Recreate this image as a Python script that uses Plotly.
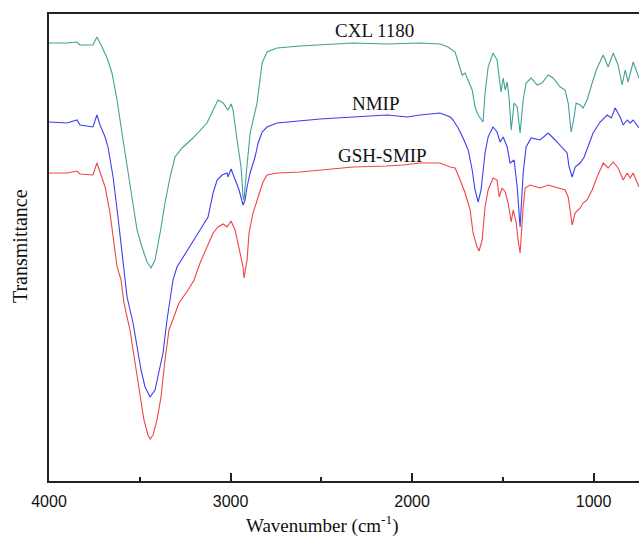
import plotly.graph_objects as go

# ---- data (wavenumber in cm-1, transmittance in arbitrary units) ----
cxl_wn = [4000, 3901, 3846, 3829, 3758, 3736, 3708, 3680, 3653, 3625, 3598, 3570, 3543, 3515,
          3488, 3460, 3438, 3416, 3388, 3361, 3333, 3306, 3267, 3207, 3130, 3096, 3069, 3041,
          3014, 2997, 2986, 2964, 2942, 2931, 2926, 2910, 2892, 2854, 2826, 2799, 2744, 2617,
          2507, 2325, 2138, 1956, 1846, 1802, 1763, 1746, 1724, 1708, 1691, 1669, 1653, 1636,
          1609, 1598, 1581, 1554, 1532, 1520, 1510, 1498, 1487, 1476, 1465, 1454, 1438, 1421,
          1405, 1388, 1372, 1344, 1311, 1284, 1250, 1223, 1184, 1157, 1140, 1124, 1113, 1096,
          1074, 1058, 1036, 1008, 981, 947, 920, 892, 865, 843, 826, 810, 782, 760, 750]
cxl_t = [438, 438, 439, 436, 436, 444, 434, 423, 408, 381, 348, 314, 281, 251,
         234, 219, 213, 221, 248, 278, 304, 324, 333, 343, 358, 371, 381, 378,
         371, 377, 371, 341, 314, 284, 281, 314, 348, 378, 418, 429, 433, 435,
         436, 438, 437, 438, 437, 434, 429, 418, 406, 408, 401, 391, 374, 366,
         359, 388, 414, 428, 421, 404, 389, 403, 391, 399, 381, 351, 378, 374,
         348, 381, 398, 403, 396, 398, 406, 403, 394, 391, 378, 349, 358, 378,
         376, 373, 381, 398, 413, 426, 414, 428, 416, 396, 411, 399, 419, 408, 403]

nmip_wn = [4000, 3901, 3846, 3829, 3758, 3736, 3719, 3691, 3675, 3647, 3620, 3592, 3570, 3537,
           3515, 3493, 3471, 3443, 3416, 3394, 3372, 3350, 3328, 3317, 3295, 3262, 3212, 3168,
           3124, 3096, 3074, 3047, 3019, 3014, 2997, 2975, 2953, 2931, 2920, 2909, 2892, 2865,
           2848, 2826, 2799, 2744, 2617, 2507, 2325, 2138, 2027, 1956, 1846, 1790, 1774, 1746,
           1719, 1691, 1669, 1653, 1636, 1620, 1598, 1581, 1554, 1532, 1515, 1498, 1476, 1460,
           1438, 1421, 1405, 1388, 1372, 1344, 1295, 1250, 1212, 1173, 1146, 1135, 1118, 1102,
           1074, 1052, 1030, 1003, 964, 925, 903, 881, 854, 837, 815, 799, 782, 750]
nmip_t = [359, 358, 361, 356, 354, 366, 356, 344, 334, 304, 264, 221, 184, 158,
          134, 111, 94, 84, 91, 108, 128, 161, 188, 201, 214, 224, 238, 251,
          264, 288, 301, 306, 308, 304, 312, 301, 291, 276, 281, 294, 308, 324,
          338, 349, 354, 358, 360, 362, 364, 366, 364, 366, 368, 364, 361, 353,
          343, 331, 311, 291, 279, 291, 328, 344, 354, 349, 339, 344, 334, 318,
          321, 294, 254, 308, 334, 343, 341, 348, 341, 333, 328, 314, 304, 314,
          318, 324, 334, 348, 359, 366, 363, 373, 364, 356, 361, 358, 361, 353]

gsh_wn = [4000, 3901, 3846, 3829, 3758, 3736, 3719, 3691, 3664, 3642, 3625, 3603, 3587, 3554,
          3532, 3504, 3477, 3455, 3443, 3427, 3405, 3383, 3361, 3339, 3306, 3284, 3234, 3201,
          3168, 3129, 3096, 3069, 3041, 3019, 2997, 2975, 2953, 2931, 2926, 2909, 2898, 2876,
          2848, 2821, 2799, 2744, 2617, 2507, 2325, 2138, 2049, 1956, 1846, 1790, 1763, 1735,
          1708, 1680, 1664, 1642, 1631, 1614, 1598, 1581, 1554, 1532, 1520, 1504, 1487, 1471,
          1454, 1443, 1427, 1416, 1405, 1388, 1377, 1350, 1295, 1250, 1212, 1157, 1140, 1129,
          1118, 1102, 1074, 1058, 1036, 1008, 981, 947, 920, 892, 865, 837, 815, 799, 782, 750]
gsh_t = [308, 308, 310, 307, 306, 318, 309, 294, 268, 238, 214, 201, 178, 151,
         124, 91, 61, 46, 42, 46, 61, 84, 121, 151, 168, 178, 191, 201,
         218, 234, 248, 254, 257, 254, 260, 251, 234, 214, 203, 221, 248, 268,
         284, 299, 306, 308, 309, 311, 314, 315, 316, 318, 318, 314, 313, 301,
         288, 271, 248, 234, 230, 241, 274, 291, 303, 301, 284, 293, 289, 278,
         259, 271, 259, 241, 228, 274, 293, 296, 293, 296, 294, 291, 284, 268,
         256, 268, 273, 278, 281, 291, 304, 318, 313, 319, 313, 301, 308, 303, 308, 294]

series_names = ["CXL 1180", "NMIP", "GSH-SMIP"]
label_wn = [2209, 2198, 2165]
label_t = [451, 378, 326]
x_ticks = [4000, 3000, 2000, 1000]
x_title = "Wavenumber (cm<sup>-1</sup>)"
y_title = "Transmittance"

colors = ["#42a197", "#3d3df2", "#f04444"]

fig = go.Figure()
for wn, t, c, name in zip([cxl_wn, nmip_wn, gsh_wn], [cxl_t, nmip_t, gsh_t], colors, series_names):
    fig.add_trace(go.Scatter(x=wn, y=t, mode="lines", name=name,
                             line=dict(color=c, width=1.1), showlegend=False))

for name, x, y in zip(series_names, label_wn, label_t):
    fig.add_annotation(x=x, y=y, text=name, showarrow=False,
                       font=dict(family="Liberation Serif", size=19, color="#111"))

# axis titles (placed as paper annotations to match the original offsets)
fig.add_annotation(xref="paper", yref="paper", x=0.4644, y=-0.0925, text=x_title,
                   showarrow=False, xanchor="center", yanchor="middle",
                   font=dict(family="Liberation Serif", size=19, color="#111"))
fig.add_annotation(xref="paper", yref="paper", x=-0.0492, y=0.503, text=y_title,
                   showarrow=False, xanchor="center", yanchor="middle", textangle=-90,
                   font=dict(family="Liberation Serif", size=20, color="#111"))

fig.update_layout(
    width=639, height=538,
    margin=dict(l=49, r=0, t=14, b=57),
    paper_bgcolor="white", plot_bgcolor="white",
    showlegend=False,
)
fig.update_xaxes(
    range=[4000, 750], tickvals=x_ticks, ticktext=[str(v) for v in x_ticks],
    ticks="inside", ticklen=8, tickwidth=1.5, tickcolor="#222",
    minor=dict(ticks="inside", ticklen=4, dtick=500, tick0=0, tickwidth=1.5, tickcolor="#222"),
    showline=True, linecolor="#222", linewidth=2, mirror=True,
    showgrid=False, zeroline=False, ticklabelstandoff=5,
    tickfont=dict(family="Liberation Sans", size=16, color="#111"),
)
fig.update_yaxes(
    range=[0, 467], showticklabels=False, ticks="",
    showline=True, linecolor="#222", linewidth=2, mirror=False,
    showgrid=False, zeroline=False,
)

fig.write_html("out.html")
